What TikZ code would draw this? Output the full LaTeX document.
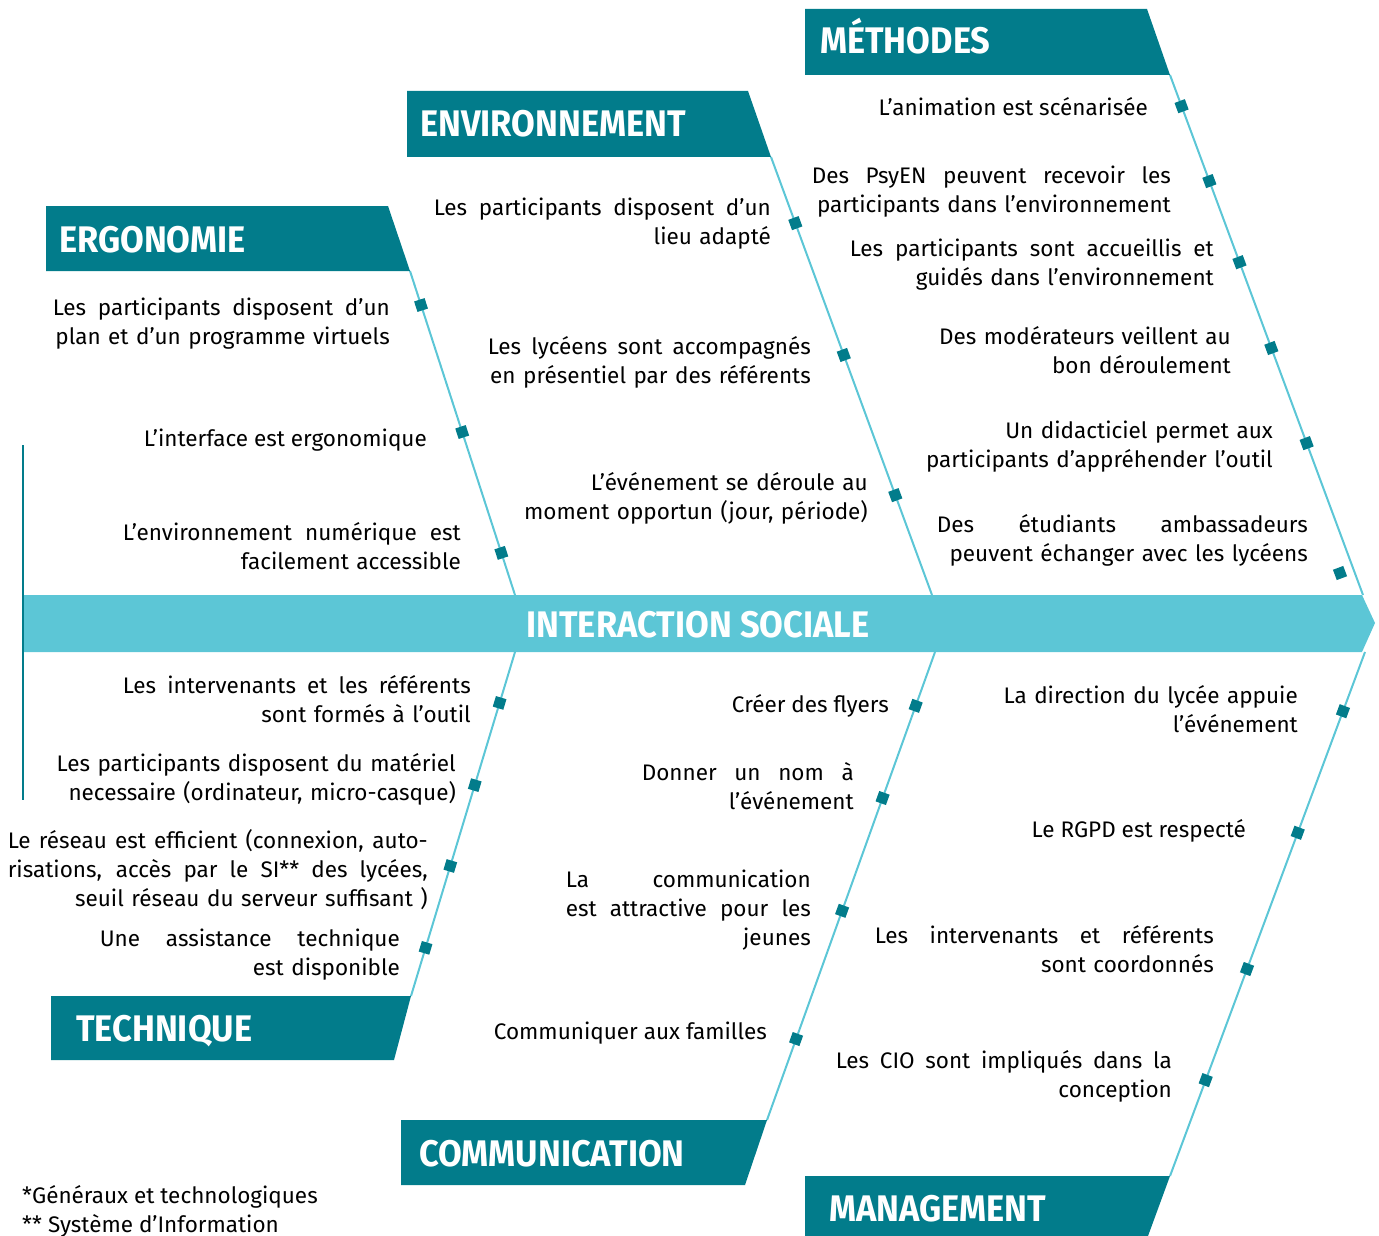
\documentclass[tikz,border=0pt]{standalone}
\usepackage{fontspec}
\setmainfont{Fira Sans}
\newfontfamily\headfont{Fira Sans}[FakeStretch=0.93]
\usepackage{tikz}
\usetikzlibrary{positioning}
\definecolor{fishteal}{HTML}{027C8B}
\definecolor{fishcyan}{HTML}{5CC6D6}
\newcommand{\jline}[2]{\makebox[#1pt][s]{\spaceskip=0.25em plus 1fil\relax #2}}

\begin{document}
\begin{tikzpicture}[x=1pt, y=-1pt,
    head/.style={fill=fishteal},
    headtext/.style={font=\headfont\bfseries\fontsize{37}{42}\selectfont, text=white, anchor=base west, inner sep=0pt},
    bone/.style={draw=fishcyan, line width=2pt},
    bonemark/.style={rectangle, fill=fishteal, minimum size=11pt, inner sep=0pt, sloped},
    item/.style={font=\fontsize{22.5}{29}\selectfont, anchor=base east, align=right, inner sep=0pt},
    note/.style={font=\fontsize{22.5}{29}\selectfont, anchor=base west, inner sep=0pt}
]
\useasboundingbox (0,0) rectangle (1379,1236);

% Boxes
\fill[head] (805,9) -- (1147,9) -- (1170,75) -- (805,75) -- cycle;
\node[headtext] (methodes) at (820,54) {MÉTHODES};
\fill[head] (407,91) -- (748,91) -- (771,157) -- (407,157) -- cycle;
\node[headtext] (environnement) at (420,137) {ENVIRONNEMENT};
\fill[head] (46,206) -- (388,206) -- (410,271) -- (46,271) -- cycle;
\node[headtext] (ergonomie) at (59,252) {ERGONOMIE};
\fill[head] (51,996) -- (411,996) -- (394,1060) -- (51,1060) -- cycle;
\node[headtext] (technique) at (76,1041) {TECHNIQUE};
\fill[head] (401,1120) -- (767,1120) -- (745,1185) -- (401,1185) -- cycle;
\node[headtext] (communication) at (419,1166) {COMMUNICATION};
\fill[head] (805,1176) -- (1170,1176) -- (1148,1236) -- (805,1236) -- cycle;
\node[headtext] (management) at (829,1221) {MANAGEMENT};

\coordinate (methodes-end) at (1170,75);
\coordinate (environnement-end) at (771,157);
\coordinate (ergonomie-end) at (410,271);
\coordinate (technique-end) at (411,996);
\coordinate (communication-end) at (767,1120);
\coordinate (management-end) at (1170,1176);
\coordinate (spine-m) at (1363,595);
\coordinate (spine-e) at (932,595);
\coordinate (spine-g) at (515,595);
\coordinate (spine-t) at (515,652);
\coordinate (spine-c) at (935,652);
\coordinate (spine-n) at (1365,652);

% Bones
\draw[bone] (methodes-end) -- (spine-m)
    node[bonemark, pos=.06] {} node[bonemark, pos=.204] {} node[bonemark, pos=.36] {}
    node[bonemark, pos=.525] {} node[bonemark, pos=.708] {};
\node[bonemark, rotate=-69.6] at (1340,573) {};
\draw[bone] (environnement-end) -- (spine-e)
    node[bonemark, pos=.151] {} node[bonemark, pos=.452] {} node[bonemark, pos=.772] {};
\draw[bone] (ergonomie-end) -- (spine-g)
    node[bonemark, pos=.105] {} node[bonemark, pos=.497] {} node[bonemark, pos=.87] {};
\draw[bone] (spine-t) -- (technique-end)
    node[bonemark, pos=.148] {} node[bonemark, pos=.387] {} node[bonemark, pos=.622] {}
    node[bonemark, pos=.86] {};
\draw[bone] (spine-c) -- (communication-end)
    node[bonemark, pos=.115] {} node[bonemark, pos=.312] {} node[bonemark, pos=.553] {}
    node[bonemark, pos=.827] {};
\draw[bone] (spine-n) -- (management-end)
    node[bonemark, pos=.113] {} node[bonemark, pos=.345] {} node[bonemark, pos=.605] {}
    node[bonemark, pos=.817] {};

% Spine
\fill[fishcyan] (23,595) -- (1362,595) -- (1375,623) -- (1362,652) -- (23,652) -- cycle;
\node[headtext, anchor=base] (spine) at (698,637) {INTERACTION SOCIALE};
\draw[fishteal, line width=2.5pt] (23,445) -- (23,800);

% Methodes
\node[item] (m1) at (1148,116) {L’animation est scénarisée};
\node[item, text width=359] (m2) at (1171,183) {\jline{359}{Des PsyEN peuvent recevoir les}\\ participants dans l’environnement};
\node[item, text width=364] (m3) at (1214,256) {\jline{364}{Les participants sont accueillis et}\\ guidés dans l’environnement};
\node[item, text width=300] (m4) at (1231,344) {Des modérateurs veillent au\\ bon déroulement};
\node[item, text width=360] (m5) at (1273,438) {Un didacticiel permet aux\\ participants d’appréhender l’outil};
\node[item, text width=371] (m6) at (1308,532) {\jline{371}{Des étudiants ambassadeurs}\\ peuvent échanger avec les lycéens};

% Environnement
\node[item, text width=337] (e1) at (771,215) {\jline{337}{Les participants disposent d’un}\\ lieu adapté};
\node[item, text width=323] (e2) at (811,354) {\jline{323}{Les lycéens sont accompagnés}\\ en présentiel par des référents};
\node[item, text width=350] (e3) at (868,490) {L’événement se déroule au\\ moment opportun (jour, période)};

% Ergonomie
\node[item, text width=337] (g1) at (390,315) {\jline{337}{Les participants disposent d’un}\\ plan et d’un programme virtuels};
\node[item] (g2) at (427,446) {L’interface est ergonomique};
\node[item, text width=338] (g3) at (461,540) {\jline{338}{L’environnement numérique est}\\ facilement accessible};

% Technique
\node[item, text width=348] (t1) at (471,693) {\jline{348}{Les intervenants et les référents}\\ sont formés à l’outil};
\node[item, text width=405] (t2) at (456,771) {Les participants disposent du matériel\\ necessaire (ordinateur, micro-casque)};
\node[item, text width=420] (t3) at (428,848) {\jline{420}{Le réseau est efficient (connexion, auto-}\\ \jline{420}{risations, accès par le SI** des lycées,}\\ seuil réseau du serveur suffisant )};
\node[item, text width=300] (t4) at (400,946) {\jline{300}{Une assistance technique}\\ est disponible};

% Communication
\node[item] (c1) at (889,712) {Créer des flyers};
\node[item, text width=212] (c2) at (854,780) {\jline{212}{Donner un nom à}\\ l’événement};
\node[item, text width=245] (c3) at (811,887) {\jline{245}{La communication}\\ \jline{245}{est attractive pour les}\\ jeunes};
\node[item] (c4) at (767,1039) {Communiquer aux familles};

% Management
\node[item, text width=310] (n1) at (1298,703) {La direction du lycée appuie\\ l’événement};
\node[item] (n2) at (1246,837) {Le RGPD est respecté};
\node[item, text width=339] (n3) at (1214,943) {\jline{339}{Les intervenants et référents}\\ sont coordonnés};
\node[item, text width=336] (n4) at (1172,1068) {\jline{336}{Les CIO sont impliqués dans la}\\ conception};

% Notes
\node[note] (fn1) at (22,1203) {*Généraux et technologiques};
\node[note] (fn2) at (22,1232) {** Système d’Information};

\end{tikzpicture}
\end{document}
